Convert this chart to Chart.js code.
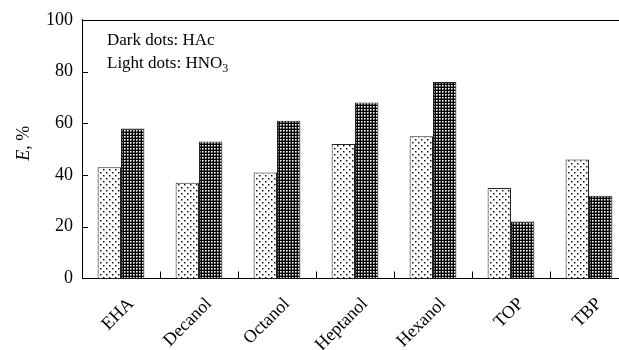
<!DOCTYPE html>
<html><head><meta charset="utf-8">
<script src="https://cdn.jsdelivr.net/npm/chart.js@4"></script>
<style>html,body{margin:0;padding:0;background:#fff;overflow:hidden;width:619px;height:350px}</style>
</head><body>
<canvas id="c" width="640" height="350" style="display:block;width:640px;height:350px"></canvas>
<script>
const categories = ['EHA', 'Decanol', 'Octanol', 'Heptanol', 'Hexanol', 'TOP', 'TBP'];
const hno3Values = [43, 37, 41, 52, 55, 35, 46];   // light dots
const hacValues = [58, 53, 61, 68, 76, 22, 32];    // dark dots
const yTickValues = [0, 20, 40, 60, 80, 100];
const legendLine1 = 'Dark dots: HAc';
const legendLine2 = 'Light dots: HNO';
const legendLine2Sub = '3';
const yTitleItalic = 'E';
const yTitleRest = ', %';

const FONT = '"Liberation Serif", "Times New Roman", serif';

function makePattern(bg, w, h, dots) {
  const c = document.createElement('canvas');
  c.width = w; c.height = h;
  const g = c.getContext('2d');
  g.fillStyle = bg; g.fillRect(0, 0, w, h);
  dots.forEach(d => { g.fillStyle = d[4]; g.fillRect(d[0], d[1], d[2], d[3]); });
  return c.getContext('2d').createPattern(c, 'repeat');
}
const ctx = document.getElementById('c').getContext('2d');
const lightPattern = makePattern('#ffffff', 6, 6, [
  [1, 1, 1, 1, '#000'], [2, 1, 1, 1, '#999'], [1, 2, 1, 1, '#999'], [2, 2, 1, 1, '#bbb'],
  [4, 4, 1, 1, '#000'], [5, 4, 1, 1, '#999'], [4, 5, 1, 1, '#999'], [5, 5, 1, 1, '#bbb']
]);
const darkPattern = makePattern('#000000', 3, 3, [[1, 1, 1, 1, '#ffffff'], [2, 1, 1, 1, '#999'], [1, 2, 1, 1, '#999'], [2, 2, 1, 1, '#555']]);

const framePlugin = {
  id: 'frame',
  afterDraw(chart) {
    const { ctx, chartArea: a, scales: { x, y } } = chart;
    ctx.save();
    ctx.strokeStyle = '#000';
    ctx.lineWidth = 1;
    ctx.beginPath();
    ctx.moveTo(a.left, Math.round(a.top) + 0.5);
    ctx.lineTo(chart.width, Math.round(a.top) + 0.5);
    ctx.stroke();
    yTickValues.forEach(v => {
      if (v === 0 || v === 100) return;
      const py = Math.round(y.getPixelForValue(v)) + 0.5;
      ctx.beginPath();
      ctx.moveTo(a.left, py);
      ctx.lineTo(a.left + 6, py);
      ctx.stroke();
    });
    for (let i = 0; i < categories.length - 1; i++) {
      const px = Math.round((x.getPixelForValue(i) + x.getPixelForValue(i + 1)) / 2) + 0.5;
      ctx.beginPath();
      ctx.moveTo(px, a.bottom);
      ctx.lineTo(px, a.bottom - 7);
      ctx.stroke();
    }
    ctx.fillStyle = '#000';
    ctx.textBaseline = 'alphabetic';
    ctx.textAlign = 'left';
    ctx.font = '17px ' + FONT;
    const lx = a.left + 25;
    ctx.fillText(legendLine1, lx, a.top + 25);
    ctx.fillText(legendLine2, lx, a.top + 48);
    const w2 = ctx.measureText(legendLine2).width;
    ctx.font = '12px ' + FONT;
    ctx.fillText(legendLine2Sub, lx + w2, a.top + 52);
    ctx.save();
    ctx.translate(a.left - 53, (a.top + a.bottom) / 2 - 6);
    ctx.rotate(-Math.PI / 2);
    ctx.font = 'italic 18px ' + FONT;
    const wi = ctx.measureText(yTitleItalic).width;
    ctx.font = '18px ' + FONT;
    const wr = ctx.measureText(yTitleRest).width;
    const sx = -(wi + wr) / 2;
    ctx.font = 'italic 18px ' + FONT;
    ctx.fillText(yTitleItalic, sx, 0);
    ctx.font = '18px ' + FONT;
    ctx.fillText(yTitleRest, sx + wi, 0);
    ctx.restore();
    ctx.restore();
  }
};

new Chart(ctx, {
  type: 'bar',
  data: {
    labels: categories,
    datasets: [
      { label: 'HNO3', data: hno3Values, backgroundColor: lightPattern, borderColor: '#222', borderWidth: 1, categoryPercentage: 0.6, barPercentage: 1 },
      { label: 'HAc', data: hacValues, backgroundColor: darkPattern, borderColor: '#222', borderWidth: 1, categoryPercentage: 0.6, barPercentage: 1 }
    ]
  },
  options: {
    responsive: false,
    animation: false,
    devicePixelRatio: 1,
    layout: { padding: { top: 16, right: 12, left: 0, bottom: 0 } },
    plugins: { legend: { display: false }, tooltip: { enabled: false }, title: { display: false } },
    scales: {
      x: {
        grid: { display: false, drawTicks: false },
        border: { display: true, color: '#000', width: 1 },
        ticks: { color: '#000', font: { family: FONT, size: 18 }, maxRotation: 45, minRotation: 45, autoSkip: false, padding: 15, labelOffset: 10 },
        afterFit(s) { s.height = 71.5; }
      },
      y: {
        min: 0, max: 100,
        grid: { display: false, drawTicks: false },
        border: { display: true, color: '#000', width: 1 },
        ticks: { stepSize: 20, color: '#000', font: { family: FONT, size: 18 }, padding: 9 },
        afterFit(s) { s.width = 82; }
      }
    }
  },
  plugins: [framePlugin]
});
</script>
</body></html>
